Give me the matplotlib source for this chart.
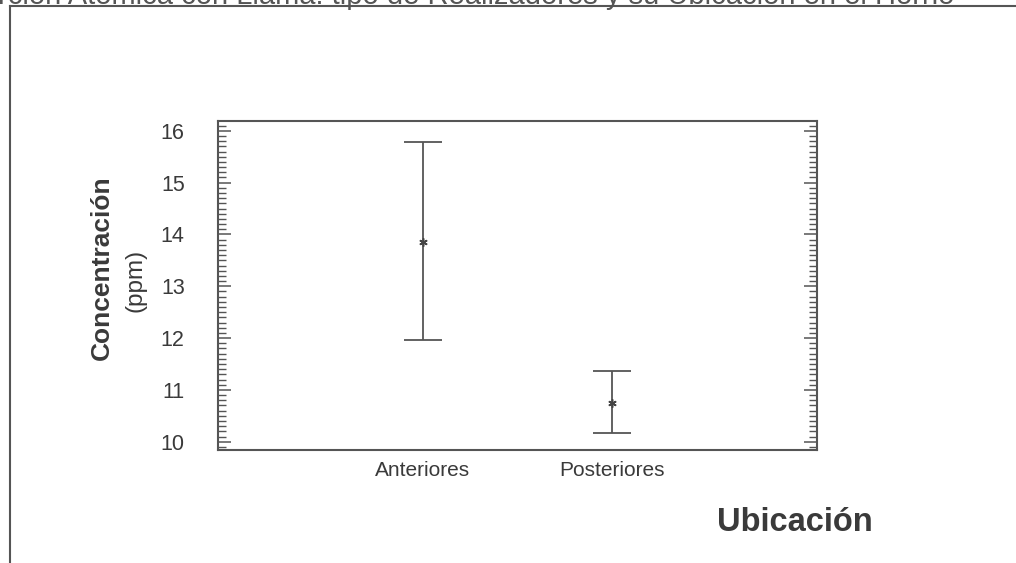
import matplotlib
matplotlib.use("Agg")
import matplotlib.pyplot as plt
from matplotlib.lines import Line2D
from matplotlib.ticker import MultipleLocator

# ---- data ----
categories = ["Anteriores", "Posteriores"]
means = [13.86, 10.75]
upper = [15.78, 11.36]
lower = [11.97, 10.16]

y_label = "Concentración"
y_unit = "(ppm)"
x_label = "Ubicación"
header = "rción Atómica con Llama: tipo de Realizadores y su Ubicación en el Horno"

INK = "#3a3a3a"
LINE = "#555555"

plt.rcParams["font.family"] = ["Liberation Sans", "DejaVu Sans"]

W, H = 1016, 563
fig = plt.figure(figsize=(W / 100, H / 100), dpi=100)
fig.patch.set_facecolor("white")

ax = fig.add_axes([218 / W, 1 - 450 / H, 599 / W, 329 / H])

x = list(range(1, len(categories) + 1))
err_lo = [m - l for m, l in zip(means, lower)]
err_hi = [u - m for m, u in zip(means, upper)]
ax.errorbar(x, means, yerr=[err_lo, err_hi], fmt="none", ecolor=LINE,
            elinewidth=1.3, capsize=13.7, capthick=1.3)
ax.plot(x, means, linestyle="none", marker=(6, 2, 0), markersize=6,
        markeredgewidth=1.1, color="#444444")

ax.set_xlim(1 - 1.08, 2 + 1.08)
ax.set_ylim(9.84, 16.19)
ax.set_xticks(x)
ax.set_xticklabels(categories)
ax.yaxis.set_major_locator(MultipleLocator(1))
ax.yaxis.set_minor_locator(MultipleLocator(0.1))

ax.tick_params(axis="x", length=0, pad=8, labelsize=15, labelcolor=INK)
ax.tick_params(axis="y", which="major", direction="in", left=True, right=True,
               length=9.5, width=1.1, color=LINE, pad=24, labelsize=15.5,
               labelcolor=INK)
ax.tick_params(axis="y", which="minor", direction="in", left=True, right=True,
               length=5.8, width=1.0, color=LINE)
for s in ax.spines.values():
    s.set_color(LINE)
    s.set_linewidth(1.5)

# rotated axis title in two lines (bold name, plain unit)
fig.text(102 / W, 1 - 268 / H, y_label, rotation=90, ha="center", va="center",
         fontsize=19, fontweight="bold", color=INK)
fig.text(135 / W, 1 - 280 / H, y_unit, rotation=90, ha="center", va="center",
         fontsize=17.5, color=INK)
fig.text(717 / W, 1 - 531 / H, x_label, ha="left", va="baseline",
         fontsize=23.5, fontweight="bold", color=INK)

# header line of the scanned page, cropped at the top edge, and the page frame
fig.text(-2 / W, 1 - 3.5 / H, header, ha="left", va="baseline", fontsize=21,
         color="#555555")
fig.add_artist(Line2D([9.5 / W, 1.0], [1 - 5.5 / H, 1 - 5.5 / H],
                      transform=fig.transFigure, color=LINE, linewidth=1.5))
fig.add_artist(Line2D([9.5 / W, 9.5 / W], [1 - 5.5 / H, 0.0],
                      transform=fig.transFigure, color=LINE, linewidth=1.5))

fig.savefig("out.png", dpi=100)
